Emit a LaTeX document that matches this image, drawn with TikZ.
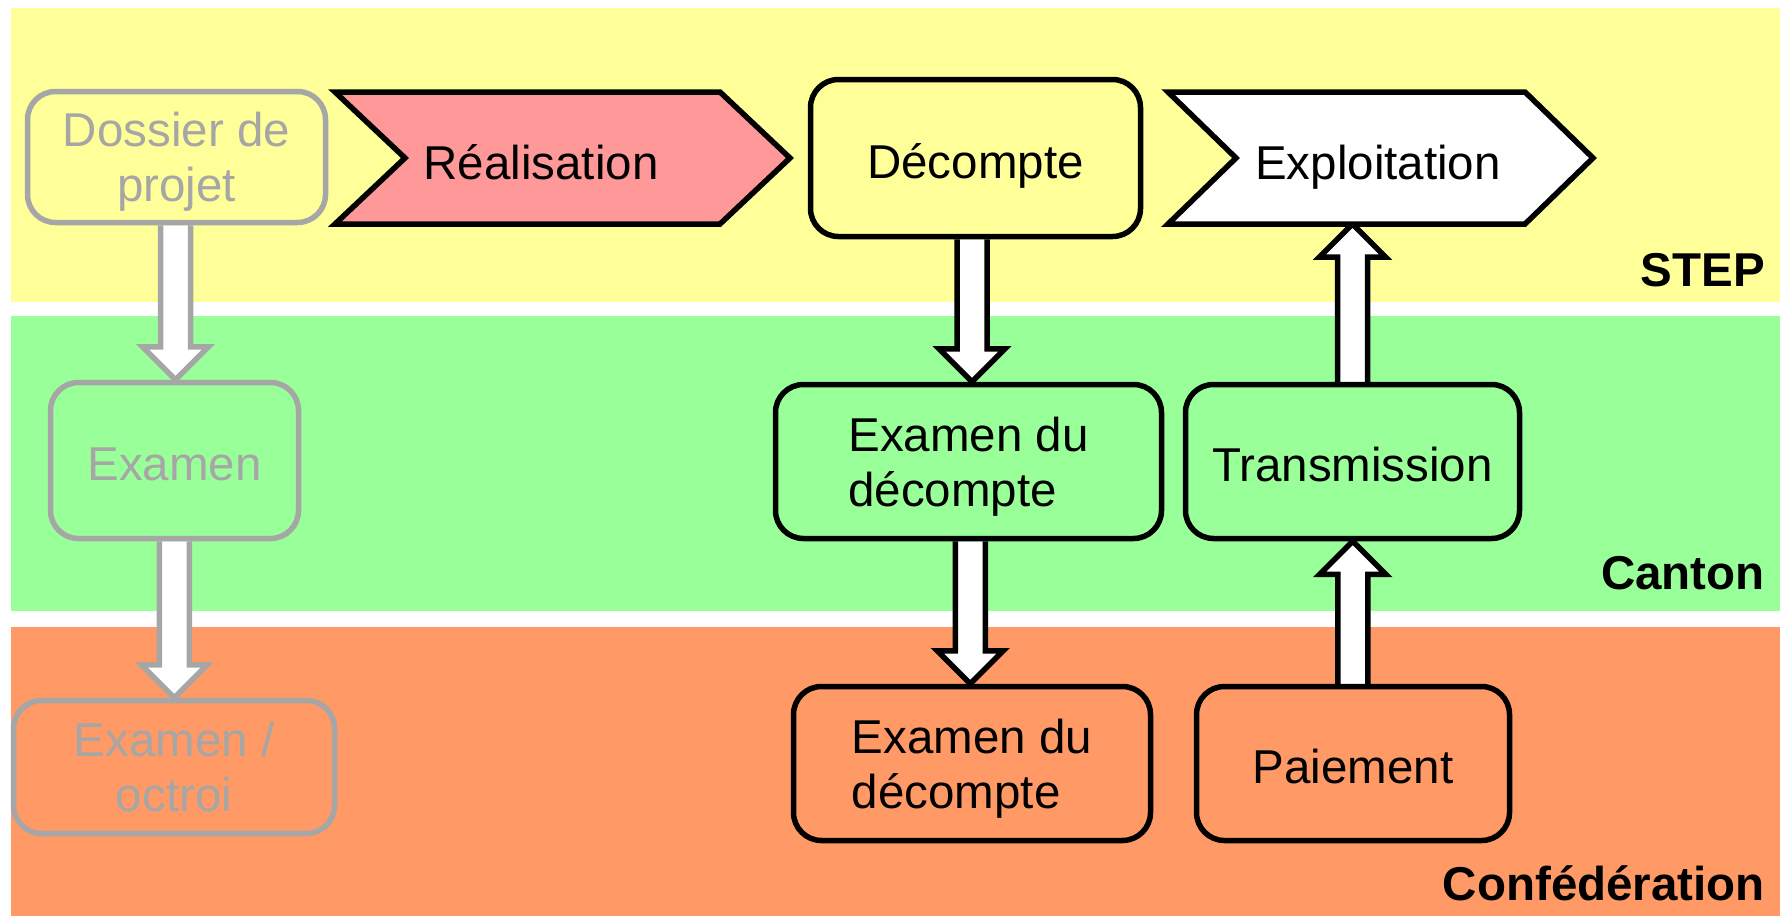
\documentclass[tikz,border=0pt]{standalone}
\usepackage{fontspec}
\setmainfont{Liberation Sans}
\usetikzlibrary{calc}
\pgfdeclarelayer{bg}
\pgfdeclarelayer{arr}
\pgfsetlayers{bg,arr,main}
\definecolor{bandY}{HTML}{FFFF99}
\definecolor{bandG}{HTML}{99FF99}
\definecolor{bandO}{HTML}{FF9966}
\definecolor{pinkR}{HTML}{FF9999}
\definecolor{greyL}{HTML}{A6A6A6}
\newcommand{\blockarrow}[3]{%
  \begin{pgfonlayer}{arr}
  \path[draw=#1, fill=white, line width=5.5pt, line join=miter]
    let \p1=#2, \p2=#3, \n1={sign(\y2-\y1)}, \n2={(\x1+\x2)/2} in
    (\n2-15pt,\y1) -- (\n2-15pt,{\y2-\n1*33pt}) -- (\n2-33pt,{\y2-\n1*33pt})
    -- (\n2,\y2) -- (\n2+33pt,{\y2-\n1*33pt}) -- (\n2+15pt,{\y2-\n1*33pt})
    -- (\n2+15pt,\y1);
  \end{pgfonlayer}}
\tikzset{
  txt/.style={font=\fontsize{47.5}{55}\selectfont},
  box/.style={txt, draw, line width=5.5pt, rounded corners=28pt, align=center, inner sep=0pt},
  active/.style={box, draw=black, text=black},
  faded/.style={box, draw=greyL, text=greyL},
  oneline/.style={text height=40pt, text depth=0pt},
  twoline/.style={text depth=0pt},
  frame/.style={inner sep=0pt, outer sep=0pt},
  chev/.style={draw=black, line width=5.5pt, line join=miter},
  lbl/.style={txt, inner sep=0pt},
  lane/.style={txt, font=\fontsize{47.5}{55}\selectfont\bfseries, inner sep=0pt, anchor=base east},
}
\begin{document}
\begin{tikzpicture}[x=1pt,y=-1pt]
\useasboundingbox (0,0) rectangle (1780,916);
\begin{pgfonlayer}{bg}
  \fill[white] (0,0) rectangle (1780,916);
  \fill[bandY] (11,8) rectangle (1780,302);
  \fill[bandG] (11,316) rectangle (1780,611);
  \fill[bandO] (11,627) rectangle (1780,916);
\end{pgfonlayer}

% left (faded) column
\node[faded, twoline, fill=bandY, minimum width=298pt, minimum height=131pt] (dos) at (176.5,157) {Dossier de\\projet};
\node[faded, oneline, fill=bandG, minimum width=248pt, minimum height=156pt] (exa) at (174.5,460.5) {Examen};
\node[faded, twoline, fill=bandO, minimum width=321pt, minimum height=133pt] (oct) at (174,767) {Examen /\\octroi};

% chevrons
\node[frame, minimum width=455pt, minimum height=132pt] (realf) at (562.5,158) {};
\draw[chev, fill=pinkR] (realf.north west) -- ($(realf.north east)+(-70,0)$) -- (realf.east)
  -- ($(realf.south east)+(-70,0)$) -- (realf.south west) -- ($(realf.west)+(70,0)$) -- cycle;
\node[lbl, anchor=base] (real) at (541,179) {Réalisation};

\node[frame, minimum width=425pt, minimum height=132pt] (explf) at (1380.5,158) {};
\draw[chev, fill=white] (explf.north west) -- ($(explf.north east)+(-68,0)$) -- (explf.east)
  -- ($(explf.south east)+(-68,0)$) -- (explf.south west) -- ($(explf.west)+(68,0)$) -- cycle;
\node[lbl, anchor=base] (expl) at (1378,179) {Exploitation};

% active boxes
\node[active, oneline, fill=bandY, minimum width=330pt, minimum height=157pt] (dec) at (975.5,158) {Décompte};
\node[active, twoline, align=left, fill=bandG, minimum width=386pt, minimum height=154pt] (exdc) at (968.5,461.5) {Examen du\\décompte};
\node[active, oneline, fill=bandG, minimum width=334pt, minimum height=154pt] (trans) at (1352.5,461.5) {Transmission};
\node[active, twoline, align=left, fill=bandO, minimum width=357pt, minimum height=154pt] (exdf) at (972,763.5) {Examen du\\décompte};
\node[active, oneline, fill=bandO, minimum width=313pt, minimum height=154pt] (pai) at (1353,763.5) {Paiement};

% lane labels
\node[lane] (lstep) at (1765,286) {STEP};
\node[lane] (lcanton) at (1765,589) {Canton};
\node[lane] (lconf) at (1765,900) {Confédération};

% block arrows
\blockarrow{greyL}{(dos.south)}{(exa.north)}
\blockarrow{greyL}{(exa.south)}{(oct.north)}
\blockarrow{black}{(dec.south)}{(exdc.north)}
\blockarrow{black}{(exdc.south)}{(exdf.north)}
\blockarrow{black}{(trans.north)}{(trans.north |- explf.south)}
\blockarrow{black}{(pai.north)}{(trans.south)}
\end{tikzpicture}
\end{document}
